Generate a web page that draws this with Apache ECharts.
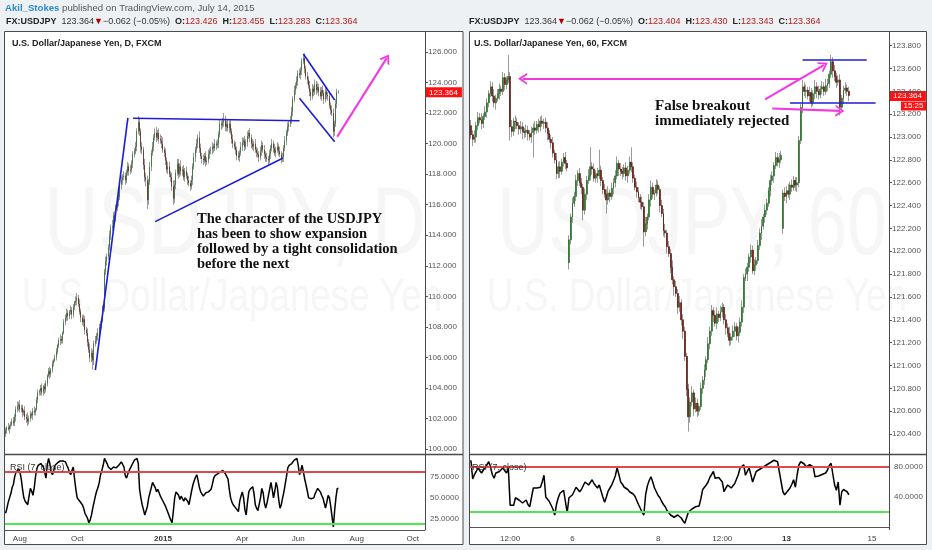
<!DOCTYPE html>
<html><head><meta charset="utf-8">
<script src="https://cdn.jsdelivr.net/npm/echarts@6/dist/echarts.min.js"></script>
<style>html,body{margin:0;padding:0;background:#eef1f4}#c{width:932px;height:550px}</style>
</head><body><div id="c"></div><script>
// ---------- Daily USDJPY (left) ----------
const dFirstOpen = 101.0;
const dClose = [
101.2,101.4,101.3,101.5,101.6,101.8,101.7,102.1,102.6,102.8,
102.9,102.6,102.7,102.4,102.5,102.1,102.0,101.8,102.0,102.3,
102.2,102.5,102.4,102.6,103.2,103.7,103.8,104.0,103.7,104.1,
103.9,104.3,104.8,105.1,104.9,105.2,105.6,105.8,106.0,106.4,
106.8,107.1,107.2,107.1,107.6,108.3,108.6,108.9,108.7,109.0,
109.1,108.8,109.3,109.6,109.7,109.9,109.5,109.0,108.6,108.3,
108.5,107.8,107.6,107.0,106.5,106.0,106.3,105.8,106.9,107.1,
107.4,107.6,108.0,108.2,108.5,109.2,111.6,112.3,112.6,113.2,
114.0,114.5,114.6,115.3,115.2,115.8,116.2,116.5,117.3,117.6,
117.8,117.9,117.6,118.1,118.5,118.2,118.3,118.7,119.3,119.5,
119.8,120.8,121.4,120.8,119.8,119.6,118.6,117.8,117.6,116.3,
117.5,118.5,119.4,119.8,120.4,120.7,120.4,120.7,120.3,120.2,
120.0,119.6,119.4,118.9,118.3,118.5,118.0,117.8,117.2,116.4,
117.3,118.1,118.7,118.0,118.5,118.2,118.3,117.8,118.2,117.9,
117.6,117.4,117.2,117.6,118.5,119.1,119.6,120.0,120.4,119.7,
119.2,119.0,118.9,119.2,118.8,118.9,119.3,119.5,119.6,119.8,
119.7,120.0,119.9,120.0,120.6,121.3,121.2,121.4,121.5,121.1,
121.3,121.0,121.3,120.8,120.3,120.0,119.8,119.6,119.2,119.1,
119.4,119.8,120.1,120.2,119.8,120.1,120.5,120.7,120.4,120.0,
119.8,120.0,119.6,119.4,119.3,119.1,119.5,119.9,119.6,119.3,
119.1,119.0,118.9,119.3,119.7,120.0,119.7,119.4,119.6,119.8,
119.5,119.3,119.0,119.1,119.7,120.2,120.7,121.1,121.3,121.5,
122.1,122.9,123.5,123.8,124.1,124.6,124.5,124.8,125.4,125.6,
124.9,124.4,124.2,123.8,123.4,123.1,123.6,123.4,123.9,123.5,
123.7,123.4,123.1,123.5,123.3,122.9,123.4,123.2,123.1,122.5,
122.2,122.0,120.8,121.3,122.6,123.4,123.364];
const dUpWick = [
.2,.1,.3,.1,.2,.2,.3,.2,.2,.3, .2,.3,.2,.2,.1,.3,.2,.4,.2,.2, .1,.2,.3,.1,.2,.2,.1,.2,.3,.1,
.2,.2,.1,.2,.3,.1,.2,.1,.2,.2, .1,.2,.3,.2,.1,.2,.2,.3,.2,.1, .3,.2,.2,.1,.3,.3,.2,.3,.2,.2,
.3,.2,.2,.3,.2,.4,.3,.2,.2,.3, .2,.3,.2,.2,.1,.2,.2,.3,.2,.2, .3,.2,.4,.2,.3,.2,.3,.2,.2,.3,
.2,.3,.2,.2,.3,.2,.3,.2,.2,.2, .3,.2,.4,.3,.2,.3,.2,.4,.3,.3, .2,.3,.2,.3,.2,.3,.4,.2,.3,.3,
.3,.4,.2,.3,.2,.3,.3,.2,.3,.4, .3,.2,.3,.3,.2,.4,.2,.3,.2,.3, .2,.3,.2,.3,.2,.3,.2,.3,.2,.4,
.3,.2,.3,.2,.3,.2,.3,.2,.2,.3, .2,.3,.2,.3,.2,.3,.2,.3,.5,.3, .2,.3,.2,.3,.2,.3,.2,.3,.2,.3,
.2,.3,.3,.2,.3,.2,.3,.2,.3,.2, .3,.2,.3,.2,.3,.2,.3,.3,.2,.3, .2,.3,.2,.3,.2,.3,.2,.3,.2,.3,
.2,.3,.2,.3,.2,.3,.2,.3,.2,.3, .3,.2,.3,.2,.3,.2,.3,.2,.2,.3, .3,.2,.3,.2,.3,.2,.3,.2,.3,.2,
.3,.2,.3,.2,.3,.2,.3,.2,.2,.3, .2,.3,.3,.2,.3,.2,.1];
const dLowWick = [
.2,.2,.1,.3,.2,.1,.2,.2,.3,.2, .3,.2,.2,.3,.2,.2,.3,.3,.2,.2, .2,.3,.2,.2,.1,.2,.2,.3,.2,.2,
.3,.2,.2,.1,.3,.2,.2,.2,.1,.2, .2,.2,.3,.2,.2,.1,.2,.2,.3,.2, .2,.3,.2,.2,.2,.3,.2,.2,.3,.2,
.3,.3,.2,.3,.2,.3,.3,.6,.3,.2, .2,.3,.2,.2,.3,.2,.2,.2,.3,.2, .2,.3,.2,.3,.2,.3,.2,.3,.2,.3,
.3,.2,.3,.2,.2,.3,.2,.2,.3,.2, .2,.3,.2,.3,.4,.3,.3,.3,.4,.6, .3,.2,.3,.2,.3,.2,.3,.2,.3,.2,
.3,.2,.3,.3,.2,.3,.2,.3,.3,.4, .3,.3,.2,.3,.2,.3,.3,.2,.3,.2, .3,.2,.3,.2,.3,.2,.3,.2,.3,.3,
.2,.3,.3,.2,.3,.2,.2,.3,.2,.3, .3,.2,.3,.2,.3,.2,.3,.2,.3,.3, .3,.2,.3,.2,.3,.3,.2,.3,.3,.2,
.3,.2,.3,.2,.3,.2,.3,.2,.3,.3, .2,.3,.2,.3,.2,.3,.2,.3,.2,.3, .3,.2,.3,.2,.3,.2,.3,.2,.3,.2,
.3,.2,.3,.2,.3,.2,.3,.2,.3,.2, .2,.3,.2,.3,.2,.3,.2,.3,.3,.2, .3,.2,.3,.2,.3,.3,.2,.3,.2,.3,
.2,.3,.2,.3,.2,.3,.2,.3,.3,.2, .3,.2,.4,.3,.2,.3,.1];
const dRsi = [
32,38,45,50,55,62,66,75,80,82, 84,80,72,60,50,46,44,42,52,61, 58,53,62,75,84,88,86,90,92,86,
80,73,88,96,90,80,77,82,88,90, 91,92,93,94,93,92,92,88,85,80, 77,82,86,72,60,50,48,46,44,42,
38,32,30,26,21,24,30,38,45,52, 58,62,68,77,82,88,96,94,90,86, 84,83,85,86,84,85,87,88,90,92,
92,86,76,73,78,82,85,88,90,94, 96,96,90,60,50,42,36,30,28,40, 50,56,62,68,68,62,57,60,56,52,
50,46,44,40,38,32,28,24,21,35, 50,57,55,53,48,52,50,46,50,48, 46,42,44,58,65,70,74,77,70,62,
57,55,52,53,56,54,57,58,60,66, 73,76,77,78,79,80,81,82,80,78, 77,72,60,50,45,42,40,38,36,34,
46,52,57,50,36,30,45,57,60,62, 63,55,42,38,35,34,50,61,56,44, 38,44,52,60,68,60,50,58,68,62,
48,38,42,50,57,66,75,85,88,90, 90,92,94,95,96,88,77,82,88,80, 72,65,58,50,48,49,50,50,55,58,
61,60,57,53,50,44,38,45,53,50, 40,28,16,35,50,61,61];
const dSlots = 323;
const dTickIdx = [11, 55, 121, 182, 225, 270, 313];
const dTickLbl = ['Aug', 'Oct', '2015', 'Apr', 'Jun', 'Aug', 'Oct'];
const dBoldTicks = ['2015'];

// ---------- Hourly USDJPY (right) ----------
const hFirstOpen = 123.10;
const hGapOpens = [[55, 121.90], [175, 122.20]];
const hClose = [
123.02,122.98,123.00,123.10,123.17,123.15,123.12,123.18,123.22,123.30,
123.38,123.44,123.36,123.30,123.34,123.38,123.42,123.40,123.52,123.46,
123.50,123.53,123.09,123.05,123.14,123.13,123.10,123.07,123.09,123.05,
123.04,123.06,123.03,123.00,123.04,123.08,123.06,123.11,123.09,123.14,
123.12,123.13,123.08,123.03,122.98,122.95,122.86,122.80,122.68,122.74,
122.70,122.78,122.82,122.77,122.73,122.10,122.30,122.42,122.48,122.62,
122.68,122.60,122.56,122.36,122.50,122.62,122.66,122.74,122.72,122.64,
122.68,122.66,122.71,122.62,122.54,122.50,122.45,122.51,122.48,122.55,
122.60,122.66,122.77,122.72,122.70,122.68,122.73,122.66,122.71,122.78,
122.74,122.64,122.56,122.52,122.47,122.43,122.39,122.17,122.24,122.30,
122.45,122.56,122.50,122.51,122.58,122.54,122.40,122.33,122.18,122.16,
122.04,121.98,121.86,121.75,121.69,121.63,121.51,121.55,121.40,121.30,
121.08,120.79,120.55,120.68,120.76,120.62,120.67,120.60,120.64,120.80,
120.87,120.96,121.05,121.19,121.30,121.48,121.44,121.37,121.45,121.42,
121.47,121.51,121.40,121.33,121.28,121.22,121.25,121.30,121.34,121.26,
121.29,121.38,121.51,121.77,121.80,121.86,121.95,122.01,121.83,121.88,
121.92,122.05,122.16,122.22,122.30,122.36,122.42,122.53,122.62,122.66,
122.75,122.82,122.78,122.80,122.84,122.51,122.48,122.53,122.50,122.58,
122.56,122.62,122.58,122.60,122.97,123.26,123.44,123.40,123.41,123.36,
123.39,123.30,123.38,123.44,123.40,123.37,123.42,123.44,123.40,123.45,
123.47,123.55,123.66,123.58,123.53,123.48,123.50,123.26,123.34,123.41,
123.43,123.40,123.364];
const hUpWick = [
.05,.04,.06,.03,.05,.04,.06,.03,.05,.04, .03,.05,.04,.06,.03,.04,.05,.03,.05,.04,
.03,.19,.04,.06,.03,.05,.04,.03,.05,.04, .03,.05,.04,.03,.05,.04,.06,.03,.05,.04,
.05,.03,.04,.05,.03,.04,.05,.03,.06,.04, .05,.03,.04,.05,.03,.04,.03,.05,.04,.05,
.03,.05,.04,.03,.05,.04,.06,.17,.04,.05, .03,.05,.18,.04,.03,.05,.04,.06,.03,.05,
.04,.05,.06,.03,.05,.04,.03,.05,.04,.05, .13,.04,.03,.05,.04,.03,.05,.04,.06,.03,
.05,.06,.04,.03,.05,.04,.03,.05,.04,.06, .03,.05,.04,.06,.03,.05,.04,.06,.03,.05,
.04,.03,.05,.04,.06,.03,.05,.04,.03,.05, .04,.05,.03,.06,.04,.05,.03,.04,.06,.03,
.05,.04,.03,.05,.04,.06,.03,.05,.04,.03, .05,.04,.06,.03,.05,.04,.03,.05,.04,.05,
.03,.05,.04,.06,.03,.05,.04,.03,.05,.04, .03,.05,.04,.06,.04,.03,.05,.04,.06,.03,
.05,.04,.03,.05,.04,.03,.06,.04,.05,.03, .05,.04,.03,.06,.04,.05,.03,.05,.04,.06,
.04,.03,.06,.04,.05,.03,.04,.05,.03,.04, .05,.03,.04];
const hLowWick = [
.04,.06,.03,.05,.04,.03,.05,.04,.03,.05, .04,.03,.05,.04,.06,.03,.05,.04,.03,.05,
.04,.03,.12,.05,.04,.06,.03,.05,.04,.07, .05,.04,.06,.03,.05,.22,.04,.03,.05,.04,
.03,.05,.04,.06,.03,.05,.04,.03,.05,.04, .06,.03,.04,.05,.03,.06,.04,.05,.03,.04,
.05,.03,.06,.09,.04,.05,.03,.04,.05,.03, .04,.06,.03,.05,.04,.03,.12,.04,.05,.03,
.05,.04,.03,.06,.04,.05,.03,.04,.06,.03, .05,.04,.03,.05,.04,.06,.03,.13,.04,.05,
.03,.06,.04,.05,.03,.04,.06,.03,.05,.04, .06,.03,.05,.04,.08,.03,.06,.04,.05,.07,
.04,.06,.13,.05,.04,.06,.03,.05,.04,.03, .05,.04,.06,.03,.05,.04,.06,.03,.05,.04,
.03,.05,.04,.06,.03,.05,.04,.03,.05,.04, .06,.03,.04,.05,.03,.06,.04,.05,.03,.04,
.05,.03,.04,.06,.03,.05,.04,.03,.05,.04, .06,.03,.04,.05,.03,.05,.04,.06,.03,.05,
.04,.03,.05,.06,.04,.03,.05,.04,.06,.03, .05,.04,.03,.05,.06,.04,.03,.05,.04,.03,
.05,.04,.03,.06,.04,.05,.03,.07,.04,.05, .03,.04,.05];
const hRsi = [
89,64,70,74,79,75,72,76,79,80, 87,80,70,65,72,73,74,76,79,75, 72,79,29,29,29,39,37,36,34,32,
34,36,30,27,27,52,50,52,52,53, 60,69,40,37,34,33,24,16,30,39, 45,45,49,48,19,39,40,43,45,53,
50,47,50,55,60,58,56,58,63,58, 55,52,56,48,40,33,40,48,52,56, 56,68,79,70,60,57,53,51,50,47,
47,44,41,39,30,25,20,16,43,55, 62,67,60,52,47,42,39,34,30,27, 22,19,16,14,13,15,16,14,12,8,
5,3,20,22,24,25,27,29,28,38, 50,52,56,60,66,70,74,65,64,66, 67,60,47,52,56,54,52,55,58,60,
70,79,81,83,69,74,79,70,60,67, 74,75,77,79,80,82,83,85,86,88, 89,88,87,86,60,47,43,46,49,52,
57,63,53,70,83,87,89,84,80,82, 83,81,80,67,67,68,69,70,71,72, 76,82,85,87,56,49,60,29,47,50,
52,47,43];
const hSlots = 235;
const hTickIdx = [22, 57, 105, 141, 177, 225];
const hTickLbl = ['12:00', '6', '8', '12:00', '13', '15'];
const hBoldTicks = ['13'];

// ---------- build ----------
function ohlc(close, up, lo, firstOpen, gaps) {
  const opens = close.map((c, i) => i === 0 ? firstOpen : close[i - 1]);
  gaps.forEach(g => { opens[g[0]] = g[1]; });
  const body = close.map((c, i) => [opens[i], c, Math.min(opens[i], c), Math.max(opens[i], c)]);
  const wick = close.map((c, i) => [opens[i], c, Math.min(opens[i], c) - lo[i], Math.max(opens[i], c) + up[i]]);
  return { body, wick };
}
const L = ohlc(dClose, dUpWick, dLowWick, dFirstOpen, []);
const R = ohlc(hClose, hUpWick, hLowWick, hFirstOpen, hGapOpens);
const dCats = Array.from({ length: dSlots }, (_, i) => String(i));
const hCats = Array.from({ length: hSlots }, (_, i) => String(i));

const FONT = 'Liberation Sans';
const SERIF = 'Liberation Serif';
const AX = '#555';
const BLUE = { color: '#1c1cd8', width: 1.6, type: 'solid' };
const PINK = { color: '#f238e2', width: 2.2, type: 'solid' };
const CHEV = 'path://M0,10 L5,0 L10,10 L8.2,10 L5,3.6 L1.8,10 Z';
function seg(a, b, style, arrow) {
  const end = arrow ? { coord: b, symbol: CHEV, symbolSize: [12, 9] } : { coord: b };
  return [{ coord: a, lineStyle: style }, end];
}

const bodyStyle = { color: '#3f9f3f', color0: '#9a2a20', borderColor: '#2a6a2a', borderColor0: '#5a1810', borderWidth: 0.7 };
const wickStyle = { color: '#999', color0: '#999', borderColor: '#9a9a9a', borderColor0: '#9a9a9a', borderWidth: 1 };

function timeAxis(idx, cats, ticks, labels, bolds) {
  return {
    type: 'category', gridIndex: idx, data: cats, boundaryGap: true, z: 10,
    axisLine: { show: true, lineStyle: { color: AX, width: 1 } },
    axisTick: { show: false }, splitLine: { show: false },
    axisLabel: {
      interval: (i) => ticks.includes(i),
      formatter: (v, i) => { const k = ticks.indexOf(i); if (k < 0) return ''; const t = labels[k]; return bolds.includes(t) ? '{b|' + t + '}' : t; },
      fontSize: 8, color: '#444', margin: 5, fontFamily: FONT,
      rich: { b: { fontWeight: 'bold', fontSize: 8, color: '#333', fontFamily: FONT } }
    }
  };
}
function hiddenX(idx, cats) {
  return { type: 'category', gridIndex: idx, data: cats, boundaryGap: true, show: false };
}
function priceAxis(idx, min, max, step) {
  return {
    type: 'value', gridIndex: idx, position: 'right', min, max, interval: step, scale: true, z: 10,
    axisLine: { show: false }, splitLine: { show: false },
    axisTick: { show: true, length: 3, lineStyle: { color: AX } },
    axisLabel: { fontSize: 8, color: '#555', margin: 3, fontFamily: FONT, formatter: v => v.toFixed(3) }
  };
}
function rsiAxis(idx, min, max, step, shown) {
  return {
    type: 'value', gridIndex: idx, position: 'right', min, max, interval: step, z: 10,
    axisLine: { show: false }, splitLine: { show: false }, axisTick: { show: false },
    axisLabel: { fontSize: 8, color: '#555', margin: 5, fontFamily: FONT, formatter: v => shown.includes(v) ? v.toFixed(4) : '' }
  };
}
function lastPriceLine(val) {
  return {
    silent: true, symbol: 'none', lineStyle: { color: 'rgba(255,255,255,0)', width: 0.01 },
    label: { show: true, position: 'end', distance: 0, formatter: () => val.toFixed(3), color: '#fff', backgroundColor: '#ff1010', padding: [1, 4, 1, 4], fontSize: 8, fontFamily: FONT },
    data: [{ yAxis: val }]
  };
}
function bandLines() {
  return {
    silent: true, symbol: 'none', label: { show: false },
    data: [{ yAxis: 80, lineStyle: { color: '#e24a4a', width: 2, type: 'solid' } },
           { yAxis: 20, lineStyle: { color: '#55e655', width: 2, type: 'solid' } }]
  };
}
function mark(x, y, text, size, sx) {
  return { type: 'text', z: 1, x, y, scaleX: sx, silent: true,
    style: { x: 0, y: 0, text, fontSize: size, fontFamily: FONT, fill: '#f6f6f6', textAlign: 'center', textVerticalAlign: 'middle', align: 'center', verticalAlign: 'middle' } };
}

const option = {
  animation: false,
  backgroundColor: '#eef1f4',
  grid: [
    { left: 5, top: 52, width: 420, height: 397 },
    { left: 5, top: 455, width: 420, height: 75 },
    { left: 470, top: 45.7, width: 419, height: 388.3 },
    { left: 470, top: 455, width: 419, height: 75 }
  ],
  xAxis: [
    hiddenX(0, dCats),
    timeAxis(1, dCats, dTickIdx, dTickLbl, dBoldTicks),
    hiddenX(2, hCats),
    timeAxis(3, hCats, hTickIdx, hTickLbl, hBoldTicks)
  ],
  yAxis: [
    priceAxis(0, 100, 126, 2),
    rsiAxis(1, 12.5, 100, 12.5, [25, 50, 75]),
    priceAxis(2, 120.4, 123.8, 0.2),
    rsiAxis(3, -4, 96, 4, [40, 80])
  ],
  series: [
    { type: 'candlestick', xAxisIndex: 0, yAxisIndex: 0, data: L.wick, barWidth: 0.2, clip: false, itemStyle: wickStyle, z: 2,
      markLine: lastPriceLine(dClose[dClose.length - 1]) },
    { type: 'candlestick', xAxisIndex: 0, yAxisIndex: 0, data: L.body, barWidth: 1.3, clip: false, itemStyle: bodyStyle, z: 3,
      markLine: { silent: true, symbol: 'none', label: { show: false }, z: 5,
        data: [
          seg([69, 105.17], [94, 121.68], BLUE),
          seg([98, 121.66], [226, 121.5], BLUE),
          seg([115, 114.89], [213, 119.04], BLUE),
          seg([229, 125.87], [253, 122.86], BLUE),
          seg([226, 122.97], [253, 120.13], BLUE),
          seg([255, 120.45], [293, 125.59], PINK, true)
        ] } },
    { type: 'line', xAxisIndex: 1, yAxisIndex: 1, data: dRsi, symbol: 'none', lineStyle: { color: '#000', width: 1.5 }, z: 4,
      markLine: bandLines() },
    { type: 'candlestick', xAxisIndex: 2, yAxisIndex: 2, data: R.wick, barWidth: 0.2, clip: false, itemStyle: wickStyle, z: 2,
      markLine: lastPriceLine(hClose[hClose.length - 1]) },
    { type: 'candlestick', xAxisIndex: 2, yAxisIndex: 2, data: R.body, barWidth: 1.4, clip: false, itemStyle: bodyStyle, z: 3,
      markLine: { silent: true, symbol: 'none', label: { show: false }, z: 5,
        data: [
          seg([185, 123.51], [29, 123.51], PINK, true),
          seg([165, 123.33], [198, 123.63], PINK, true),
          seg([169, 123.25], [207, 123.23], PINK, true),
          seg([186, 123.68], [222, 123.68], BLUE),
          seg([179, 123.30], [227, 123.30], BLUE)
        ] } },
    { type: 'line', xAxisIndex: 3, yAxisIndex: 3, data: hRsi, symbol: 'none', lineStyle: { color: '#000', width: 1.5 }, z: 4,
      markLine: bandLines() }
  ],
  graphic: [
    // panels
    { type: 'rect', z: 0, silent: true, shape: { x: 4.5, y: 31.5, width: 458.5, height: 513 }, style: { fill: '#fff', stroke: '#4a4a4a', lineWidth: 1 } },
    { type: 'rect', z: 0, silent: true, shape: { x: 469.5, y: 31.5, width: 457, height: 513 }, style: { fill: '#fff', stroke: '#4a4a4a', lineWidth: 1 } },
    // watermarks
    mark(235, 228, 'USDJPY, D', 96, 0.78),
    mark(232, 298, 'U.S. Dollar/Japanese Yen', 46, 0.8),
    mark(692, 228, 'USDJPY, 60', 96, 0.74),
    mark(697, 298, 'U.S. Dollar/Japanese Yen', 46, 0.8),
    // separators
    { type: 'line', z: 20, silent: true, shape: { x1: 425.5, y1: 32, x2: 425.5, y2: 530 }, style: { stroke: '#4a4a4a', lineWidth: 1 } },
    { type: 'line', z: 20, silent: true, shape: { x1: 889.5, y1: 32, x2: 889.5, y2: 530 }, style: { stroke: '#4a4a4a', lineWidth: 1 } },
    { type: 'line', z: 20, silent: true, shape: { x1: 5, y1: 454.5, x2: 463, y2: 454.5 }, style: { stroke: '#4a4a4a', lineWidth: 1.5 } },
    { type: 'line', z: 20, silent: true, shape: { x1: 470, y1: 454.5, x2: 926, y2: 454.5 }, style: { stroke: '#4a4a4a', lineWidth: 1.5 } },
    // header
    { type: 'text', z: 30, style: { x: 5, y: 8, text: '{a|Akil_Stokes}{g| published on TradingView.com, July 14, 2015}', textVerticalAlign: 'middle', verticalAlign: 'middle', fontSize: 9.6, fontFamily: FONT,
      rich: { a: { fill: '#2a8ad0', fontSize: 9.6, fontWeight: 'bold', fontFamily: FONT }, g: { fill: '#555', fontSize: 9.6, fontFamily: FONT } } } },
    { type: 'text', z: 30, style: { x: 6, y: 22, textVerticalAlign: 'middle', verticalAlign: 'middle', fontSize: 9, fontFamily: FONT,
      text: '{b|FX:USDJPY}  {n|123.364}{r|\u25BC}{n|\u22120.062 (\u22120.05%)}  {b|O:}{v|123.426}  {b|H:}{v|123.455}  {b|L:}{v|123.283}  {b|C:}{v|123.364}',
      rich: { b: { fill: '#222', fontWeight: 'bold', fontSize: 9, fontFamily: FONT }, n: { fill: '#333', fontSize: 9, fontFamily: FONT }, r: { fill: '#a00', fontSize: 9, fontFamily: FONT }, v: { fill: '#b3201e', fontSize: 9, fontFamily: FONT } } } },
    { type: 'text', z: 30, style: { x: 469, y: 22, textVerticalAlign: 'middle', verticalAlign: 'middle', fontSize: 9, fontFamily: FONT,
      text: '{b|FX:USDJPY}  {n|123.364}{r|\u25BC}{n|\u22120.062 (\u22120.05%)}  {b|O:}{v|123.404}  {b|H:}{v|123.430}  {b|L:}{v|123.343}  {b|C:}{v|123.364}',
      rich: { b: { fill: '#222', fontWeight: 'bold', fontSize: 9, fontFamily: FONT }, n: { fill: '#333', fontSize: 9, fontFamily: FONT }, r: { fill: '#a00', fontSize: 9, fontFamily: FONT }, v: { fill: '#b3201e', fontSize: 9, fontFamily: FONT } } } },
    // panel titles
    { type: 'text', z: 30, style: { x: 12, y: 44, text: 'U.S. Dollar/Japanese Yen, D, FXCM', fontSize: 9, fontWeight: 'bold', fontFamily: FONT, fill: '#222', textVerticalAlign: 'middle', verticalAlign: 'middle' } },
    { type: 'text', z: 30, style: { x: 474, y: 44, text: 'U.S. Dollar/Japanese Yen, 60, FXCM', fontSize: 9, fontWeight: 'bold', fontFamily: FONT, fill: '#222', textVerticalAlign: 'middle', verticalAlign: 'middle' } },
    // RSI titles
    { type: 'text', z: 30, style: { x: 10, y: 468, text: 'RSI (7, close)', fontSize: 9, fontFamily: FONT, fill: '#333', textVerticalAlign: 'middle', verticalAlign: 'middle' } },
    { type: 'text', z: 30, style: { x: 472, y: 468, text: 'RSI (7, close)', fontSize: 9, fontFamily: FONT, fill: '#333', textVerticalAlign: 'middle', verticalAlign: 'middle' } },
    // countdown box
    { type: 'rect', z: 30, shape: { x: 901, y: 101.5, width: 25, height: 9 }, style: { fill: '#ff1010' } },
    { type: 'text', z: 31, style: { x: 913.5, y: 106, text: '15:25', fontSize: 8, fontFamily: FONT, fill: '#fff', textAlign: 'center', align: 'center', textVerticalAlign: 'middle', verticalAlign: 'middle' } },
    // annotations
    { type: 'text', z: 30, style: { x: 197, y: 212, text: 'The character of the USDJPY\nhas been to show expansion\nfollowed by a tight consolidation\nbefore the next', fontSize: 14.5, fontWeight: 'bold', fontFamily: SERIF, fill: '#111', lineHeight: 15 } },
    { type: 'text', z: 30, style: { x: 655, y: 99, text: 'False breakout\nimmediately rejected', fontSize: 15, fontWeight: 'bold', fontFamily: SERIF, fill: '#111', lineHeight: 15 } }
  ]
};
const chart = echarts.init(document.getElementById('c'), null, { renderer: 'canvas' });
chart.setOption(option);
</script></body></html>
